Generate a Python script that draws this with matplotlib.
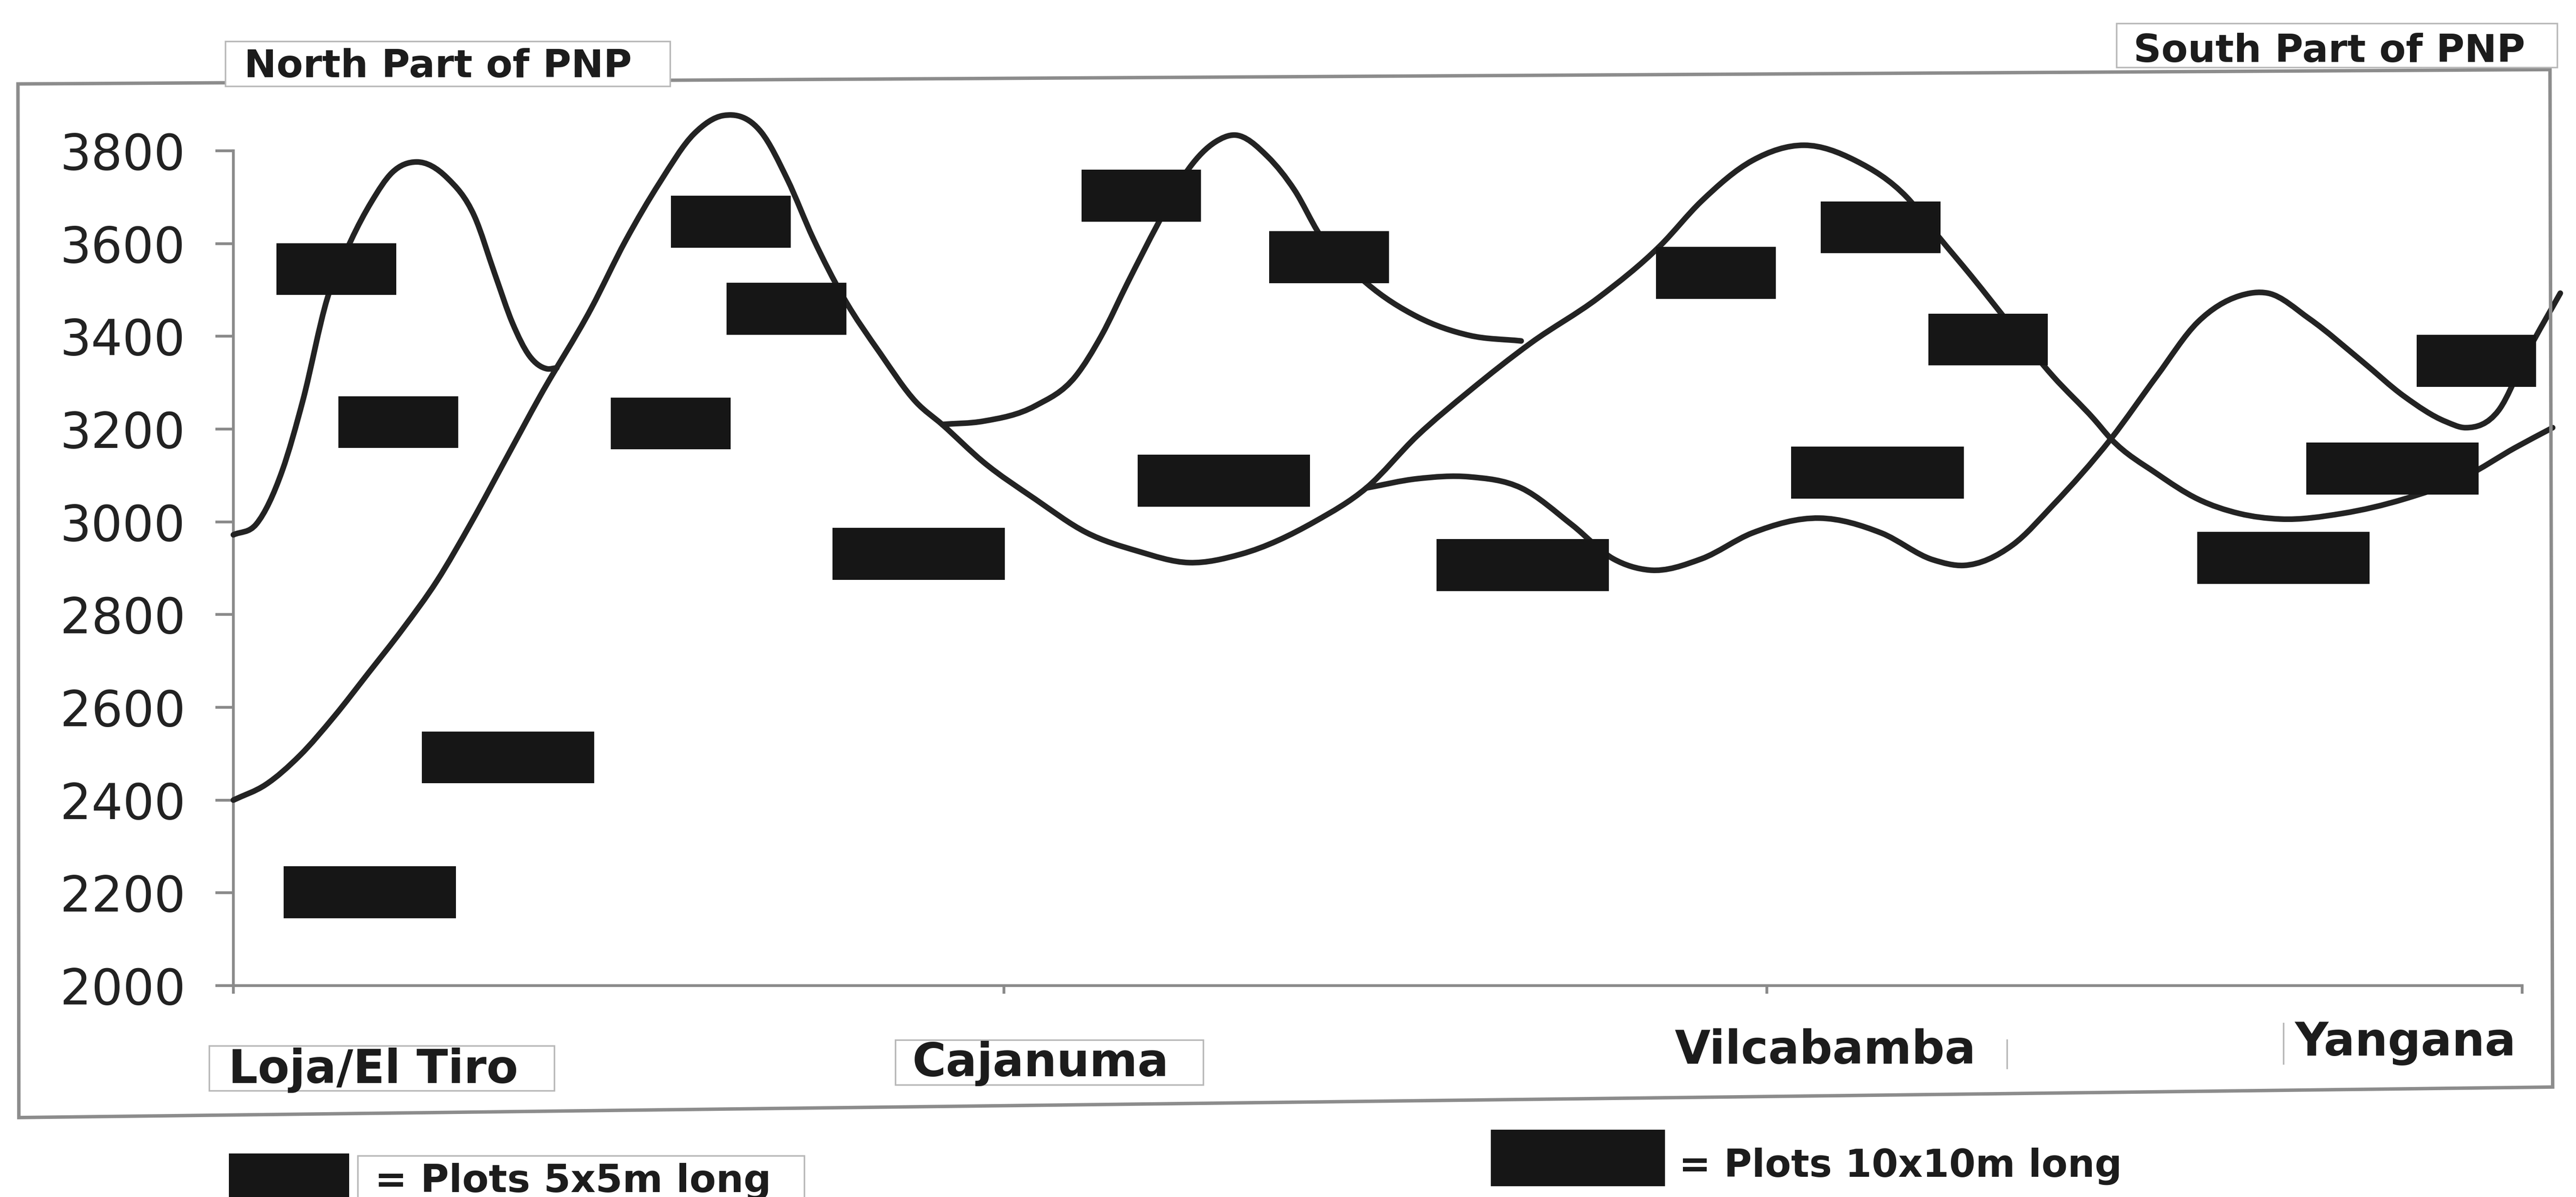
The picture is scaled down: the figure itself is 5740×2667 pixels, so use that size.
import numpy as np
import matplotlib
matplotlib.use("Agg")
import matplotlib.pyplot as plt
from matplotlib.path import Path
from matplotlib.patches import PathPatch, Rectangle, Polygon
from matplotlib.lines import Line2D

# ---------------- data (distance along transect, category units; elevation m) ----------------
categories = ["Loja/El Tiro", "Cajanuma", "Vilcabamba", "Yangana"]
category_ticks = [0.0, 1.01, 2.01, 3.0]
yticks = list(range(2000, 3801, 200))

# transect profile lines
tiro_x = [0.0, 0.030, 0.064, 0.091, 0.123, 0.154, 0.181, 0.208, 0.240, 0.280,
          0.316, 0.343, 0.366, 0.388, 0.411, 0.424]
tiro_y = [2972, 2995, 3110, 3261, 3481, 3606, 3690, 3753, 3776, 3742,
          3659, 3533, 3428, 3358, 3330, 3332]

main_x = [0.0, 0.042, 0.087, 0.132, 0.177, 0.222, 0.267, 0.312, 0.357, 0.402,
          0.469, 0.514, 0.559, 0.604, 0.642, 0.692, 0.726, 0.760, 0.800, 0.848,
          0.895, 0.929, 0.983, 1.051, 1.118, 1.185, 1.253, 1.320, 1.418, 1.485,
          1.552, 1.620, 1.701, 1.789, 1.870, 1.924, 1.991, 2.059, 2.126, 2.194,
          2.235, 2.278, 2.332, 2.385, 2.439, 2.461, 2.521, 2.575, 2.629, 2.683,
          2.764, 2.845, 2.926, 2.991, 3.040]
main_y = [2400, 2433, 2496, 2580, 2674, 2769, 2873, 2999, 3135, 3271,
          3460, 3606, 3732, 3837, 3876, 3840, 3739, 3611, 3483, 3363,
          3258, 3210, 3129, 3049, 2977, 2937, 2912, 2930, 3001, 3073,
          3186, 3282, 3386, 3483, 3595, 3691, 3779, 3812, 3779, 3699,
          3615, 3530, 3419, 3314, 3221, 3179, 3104, 3049, 3018, 3006,
          3018, 3049, 3098, 3160, 3203]

cajanuma_x = [0.929, 0.983, 1.051, 1.104, 1.138, 1.172, 1.212, 1.253, 1.287, 1.312,
              1.356, 1.391, 1.424, 1.485, 1.552, 1.620, 1.688]
cajanuma_y = [3210, 3217, 3250, 3314, 3402, 3515, 3643, 3763, 3819, 3834,
              3787, 3715, 3619, 3515, 3442, 3402, 3390]

south_x = [1.485, 1.552, 1.620, 1.688, 1.755, 1.809, 1.856, 1.924, 1.991, 2.079,
           2.160, 2.228, 2.268, 2.332, 2.385, 2.461, 2.521, 2.575, 2.629, 2.667,
           2.721, 2.791, 2.845, 2.900, 2.926, 2.969, 3.008, 3.050]
south_y = [3073, 3093, 3097, 3073, 2993, 2920, 2896, 2920, 2976, 3008,
           2976, 2918, 2906, 2950, 3036, 3179, 3314, 3431, 3487, 3493,
           3438, 3345, 3271, 3216, 3203, 3240, 3369, 3493]

# plots (centre position, elevation)
plots5_x = [0.135, 0.216, 0.573, 0.652, 0.725, 1.190, 1.436, 1.943, 2.159, 2.300, 2.940]
plots5_y = [3545, 3215, 3212, 3647, 3459, 3703, 3571, 3537, 3635, 3393, 3347]
plots10_x = [0.179, 0.360, 0.898, 1.298, 1.690, 2.155, 2.687, 2.830]
plots10_y = [2201, 2492, 2931, 3089, 2907, 3106, 2922, 3115]

# ---------------- figure ----------------
W, H = 5740, 2667
fig = plt.figure(figsize=(W / 100, H / 100), dpi=100)
fig.patch.set_facecolor("white")


def fx(x):
    return x / W


def fy(y):
    return 1 - y / H


LINE_C = "#232323"
BOX_C = "#161616"
AX_C = "#8a8a8a"
TXT_C = "#1c1c1c"

# outer (scanned, slightly skewed) frame
frame = Polygon([(fx(40), fy(187)), (fx(5682), fy(155)), (fx(5688), fy(2422)), (fx(42), fy(2490))],
                closed=True, fill=False, ec="#8c8c8c", lw=5.5, transform=fig.transFigure, zorder=1)
fig.add_artist(frame)

ax = fig.add_axes([fx(520), fy(2196), 5100 / W, (2196 - 336) / H])
ax.patch.set_visible(False)


def smooth_path(xs, ys):
    """Smooth curve through the points (cubic Hermite in x, drawn as Bezier segments)."""
    x = np.asarray(xs, float)
    y = np.asarray(ys, float)
    n = len(x)
    h = np.diff(x)
    d = np.diff(y) / h
    m = np.empty(n)
    m[0], m[-1] = d[0], d[-1]
    for i in range(1, n - 1):
        m[i] = (h[i - 1] * d[i] + h[i] * d[i - 1]) / (h[i - 1] + h[i])
    verts = [(x[0], y[0])]
    codes = [Path.MOVETO]
    for i in range(n - 1):
        verts += [(x[i] + h[i] / 3, y[i] + m[i] * h[i] / 3),
                  (x[i + 1] - h[i] / 3, y[i + 1] - m[i + 1] * h[i] / 3),
                  (x[i + 1], y[i + 1])]
        codes += [Path.CURVE4] * 3
    return Path(verts, codes)


for xs, ys in [(tiro_x, tiro_y), (main_x, main_y), (cajanuma_x, cajanuma_y), (south_x, south_y)]:
    ax.add_patch(PathPatch(smooth_path(xs, ys), fill=False, lw=9, ec=LINE_C,
                           capstyle="round", joinstyle="round", clip_on=False, zorder=3))

SW, LW_, BH = 0.157, 0.226, 112
for x, y in zip(plots5_x, plots5_y):
    ax.add_patch(Rectangle((x - SW / 2, y - BH / 2), SW, BH, fc=BOX_C, ec="none",
                           zorder=4, clip_on=False))
for x, y in zip(plots10_x, plots10_y):
    ax.add_patch(Rectangle((x - LW_ / 2, y - BH / 2), LW_, BH, fc=BOX_C, ec="none",
                           zorder=4, clip_on=False))

ax.set_xlim(0, 3)
ax.set_ylim(2000, 3800)
ax.set_yticks(yticks)
ax.set_xticks(category_ticks)
ax.set_xticklabels([])
for s in ["top", "right"]:
    ax.spines[s].set_visible(False)
for s in ["left", "bottom"]:
    ax.spines[s].set_color(AX_C)
    ax.spines[s].set_linewidth(4.5)
ax.tick_params(axis="y", length=29, width=4.5, color=AX_C, direction="out", pad=48,
               labelsize=79, labelcolor="#222222")
ax.tick_params(axis="x", length=13, width=4.5, color=AX_C, direction="out")
for lab in ax.get_yticklabels():
    lab.set_fontfamily("DejaVu Sans")


def fig_box(x0, y0, x1, y1, ec="#b8b8b8", fc="white", z=2, lw=2.5):
    r = Rectangle((fx(x0), fy(y1)), fx(x1) - fx(x0), fy(y0) - fy(y1), transform=fig.transFigure,
                  fc=fc, ec=ec, lw=lw, zorder=z)
    fig.add_artist(r)


def fig_line(x0, y0, x1, y1):
    fig.add_artist(Line2D([fx(x0), fx(x1)], [fy(y0), fy(y1)], transform=fig.transFigure,
                          color="#b8b8b8", lw=2.5, zorder=2))


# region titles
fig_box(502, 92, 1493, 192)
fig.text(fx(976), fy(172), "North Part of PNP", ha="center", va="baseline", fontsize=62,
         fontweight="bold", color=TXT_C, zorder=3)
fig_box(4716, 52, 5698, 150)
fig.text(fx(5190), fy(138), "South Part of PNP", ha="center", va="baseline", fontsize=62,
         fontweight="bold", color=TXT_C, zorder=3)

# category labels
fig_box(466, 2330, 1235, 2430)
fig_box(1995, 2317, 2681, 2417)
fig_line(4472, 2317, 4472, 2380)
fig_line(5088, 2280, 5088, 2370)
cat_pos = [(832, 2413), (2319, 2398), (4067, 2370), (5360, 2352)]
for name, (px, py) in zip(categories, cat_pos):
    fig.text(fx(px), fy(py), name, ha="center", va="baseline", fontsize=74,
             fontweight="bold", color=TXT_C, zorder=3)

# legend
fig_box(510, 2570, 778, 2720, ec="none", fc=BOX_C, z=2)
fig_box(797, 2575, 1792, 2720)
fig.text(fx(835), fy(2655), "= Plots 5x5m long", ha="left", va="baseline", fontsize=62,
         fontweight="bold", color=TXT_C, zorder=3)
fig_box(3322, 2517, 3710, 2643, ec="none", fc=BOX_C, z=2)
fig.text(fx(3741), fy(2622), "= Plots 10x10m long", ha="left", va="baseline", fontsize=61,
         fontweight="bold", color=TXT_C, zorder=3)

fig.savefig("out.png", dpi=100, facecolor="white")
